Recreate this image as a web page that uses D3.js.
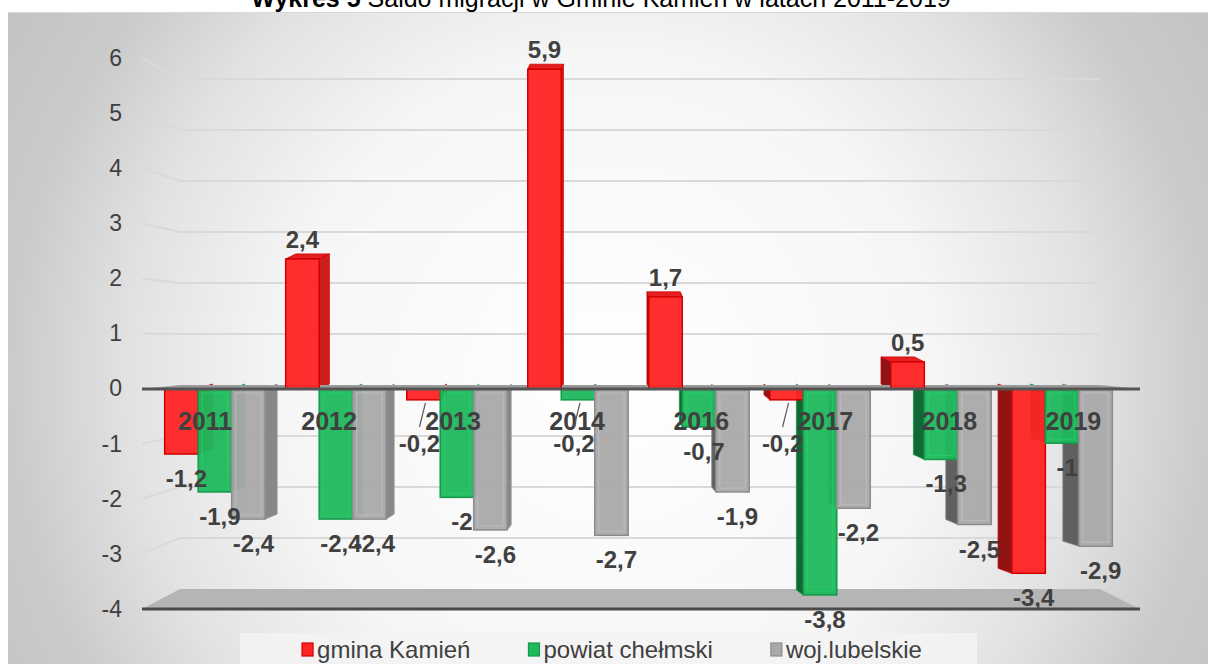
<!DOCTYPE html>
<html>
<head>
<meta charset="utf-8">
<script src="https://cdn.jsdelivr.net/npm/d3@7"></script>
<style>
  body { margin: 0; background: #fff; }
  svg { display: block; font-family: "Liberation Sans", Arial, sans-serif; }
</style>
</head>
<body>
<svg id="viz" width="1208" height="664"></svg>
<script>
// data
var years = ["2011", "2012", "2013", "2014", "2016", "2017", "2018", "2019"];
var seriesNames = ["gmina Kamień", "powiat chełmski", "woj.lubelskie"];
var gmina = [-1.2, 2.4, -0.2, 5.9, 1.7, -0.2, 0.5, -3.4];
var powiat = [-1.9, -2.4, -2, -0.2, -0.7, -3.8, -1.3, -1];
var woj = [-2.4, -2.4, -2.6, -2.7, -1.9, -2.2, -2.5, -2.9];
var yTicks = [-4, -3, -2, -1, 0, 1, 2, 3, 4, 5, 6];
var colors = ["#ff2424", "#1fb85c", "#a9a9a9"];
var strokes = ["#d00000", "#15994a", "#8c8c8c"];

var chart = {};
chart.svg = d3.select("#viz");
chart.mid = 610;

// scales: axis plane, back wall, bar front plane
chart.yA = d3.scaleLinear().domain([-4, 6]).range([609, 58]);
chart.yB = d3.scaleLinear().domain([-4, 6]).range([589, 79]);
chart.yBar = d3.scaleLinear().domain([-4, 6]).range([389 + 4 * 54.2, 389 - 6 * 54.2]);
chart.x0 = d3.scaleBand().domain(years).range([155, 1122]).paddingInner(0.17).paddingOuter(0.08);
chart.x1 = d3.scaleBand().domain(seriesNames).range([0, chart.x0.bandwidth()]);

var rows = [];
years.forEach(function (yr, i) {
    [gmina, powiat, woj].forEach(function (arr, s) {
        rows.push({ year: yr, s: s, v: arr[i] });
    });
});

chart.draw = function () {
    var svg = chart.svg, yA = chart.yA, yB = chart.yB, yBar = chart.yBar;
    var defs = svg.append("defs");
    var grad = defs.append("radialGradient").attr("id", "bg")
        .attr("gradientUnits", "userSpaceOnUse")
        .attr("cx", 610).attr("cy", 380).attr("r", 720);
    [[0, "#ffffff"], [0.45, "#f6f6f6"], [0.67, "#e2e2e2"], [0.83, "#cbcbcb"], [1, "#c2c2c2"]]
        .forEach(function (s) { grad.append("stop").attr("offset", s[0]).attr("stop-color", s[1]); });

    svg.append("rect").attr("x", 8).attr("y", 12).attr("width", 1200).attr("height", 652)
        .attr("fill", "url(#bg)");
    svg.append("line").attr("x1", 8).attr("x2", 1208).attr("y1", 12.5).attr("y2", 12.5)
        .attr("stroke", "#d8d8d8");

    // title
    var t = svg.append("text").attr("x", 601).attr("y", 7).attr("text-anchor", "middle")
        .attr("font-size", 25).attr("fill", "#000");
    t.append("tspan").attr("font-weight", "bold").text("Wykres 5");
    t.append("tspan").text(" Saldo migracji w Gminie Kamień w latach 2011-2019");

    var xl = 142, xb = 180, xbr = 1100, xr = 1140;

    // gridlines
    svg.append("g").selectAll("path")
        .data(yTicks.filter(function (d) { return d !== 0 && d !== -4; }))
        .enter().append("path")
        .attr("d", function (d) { return "M" + xl + "," + yA(d) + "L" + xb + "," + yB(d) + "H" + xbr; })
        .attr("fill", "none").attr("stroke", "#d9d9d9").attr("stroke-width", 2);

    // floor
    svg.append("path")
        .attr("d", "M" + xl + "," + yA(-4) + "L" + xb + "," + yB(-4) + "H" + xbr + "L" + xr + "," + yA(-4) + "Z")
        .attr("fill", "#b5b5b5");
    svg.append("line").attr("x1", xl).attr("x2", xr).attr("y1", yA(-4)).attr("y2", yA(-4))
        .attr("stroke", "#4a4a4a").attr("stroke-width", 3);

    // y axis labels
    var ax = svg.append("g").attr("transform", "translate(124,0)")
        .call(d3.axisLeft(yA).tickValues(yTicks).tickSize(0).tickPadding(2)
            .tickFormat(function (d) { return String(d); }));
    ax.select(".domain").remove();
    ax.selectAll("text").attr("font-size", 23).attr("fill", "#404040")
        .attr("font-family", "Liberation Sans, Arial, sans-serif");

    function geom(d) {
        var x = chart.x0(d.year) + chart.x1(seriesNames[d.s]);
        var w = chart.x1.bandwidth();
        var top = yBar(Math.max(0, d.v)), bot = yBar(Math.min(0, d.v));
        var dx = (chart.mid - (x + w / 2)) * 0.033;
        return { x: x, w: w, top: top, bot: bot, dx: dx, dy: -5, c: x + w / 2 };
    }

    var bars = svg.append("g");
    // side and top faces first
    bars.selectAll(".side").data(rows).enter().append("path").attr("class", "side")
        .attr("d", function (d) {
            var g = geom(d);
            var ex = g.dx > 0 ? g.x + g.w : g.x;
            return "M" + ex + "," + g.top + "L" + (ex + g.dx) + "," + (g.top + g.dy) +
                "L" + (ex + g.dx) + "," + (g.bot + g.dy) + "L" + ex + "," + g.bot + "Z";
        })
        .attr("fill", function (d) {
            var g = geom(d);
            return d3.color(colors[d.s]).darker(g.dx > 0 ? 0.6 : 1.6);
        })
        .attr("stroke", function (d) { return strokes[d.s]; }).attr("stroke-width", 0.8);

    bars.selectAll(".topf").data(rows.filter(function (d) { return d.v > 0; }))
        .enter().append("path").attr("class", "topf")
        .attr("d", function (d) {
            var g = geom(d);
            return "M" + g.x + "," + g.top + "L" + (g.x + g.dx) + "," + (g.top + g.dy) +
                "L" + (g.x + g.w + g.dx) + "," + (g.top + g.dy) + "L" + (g.x + g.w) + "," + g.top + "Z";
        })
        .attr("fill", function (d) { return d3.color(colors[d.s]).darker(0.3); })
        .attr("stroke", function (d) { return strokes[d.s]; }).attr("stroke-width", 0.8);

    // zero plane over the faces that poke above zero
    bars.append("path")
        .attr("d", "M" + xl + "," + yBar(0) + "L" + xb + "," + yB(0) + "H" + xbr + "L" + xr + "," + yBar(0) + "Z")
        .attr("fill", "#9a9a9a");

    bars.selectAll(".front").data(rows).enter().append("rect").attr("class", "front")
        .attr("x", function (d) { return geom(d).x; })
        .attr("y", function (d) { return geom(d).top; })
        .attr("width", function (d) { return geom(d).w; })
        .attr("height", function (d) { var g = geom(d); return g.bot - g.top; })
        .attr("fill", function (d) { return colors[d.s]; })
        .attr("fill-opacity", 0.95)
        .attr("stroke", function (d) { return strokes[d.s]; }).attr("stroke-width", 1.5);

    bars.selectAll(".bevel").data(rows.filter(function (d) { return Math.abs(d.v) >= 0.3; }))
        .enter().append("rect").attr("class", "bevel")
        .attr("x", function (d) { return geom(d).x + 4; })
        .attr("y", function (d) { return geom(d).top + 4; })
        .attr("width", function (d) { return geom(d).w - 8; })
        .attr("height", function (d) { var g = geom(d); return Math.max(0, g.bot - g.top - 8); })
        .attr("fill", "none")
        .attr("stroke", function (d) { return d3.color(colors[d.s]).brighter(0.4); })
        .attr("stroke-opacity", 0.6).attr("stroke-width", 1.2);

    // zero line on top of bars
    svg.append("line").attr("x1", xl).attr("x2", xr).attr("y1", yBar(0)).attr("y2", yBar(0))
        .attr("stroke", "#555555").attr("stroke-width", 3);

    // category labels
    svg.append("g").selectAll("text").data(years).enter().append("text")
        .attr("x", function (d) {
            var c = chart.x0(d) + chart.x0.bandwidth() / 2;
            return c + (c - chart.mid) * 0.025;
        })
        .attr("y", yBar(0) + 41)
        .attr("text-anchor", "middle").attr("font-size", 25).attr("font-weight", "bold")
        .attr("fill", "#404040").text(function (d) { return d; });

    // data labels
    var fmt = function (v) { return String(v).replace(".", ","); };
    var small = function (d) { return d.v < 0 && d.v > -0.5; };
    svg.append("g").selectAll("line").data(rows.filter(small)).enter().append("line")
        .attr("x1", function (d) { return geom(d).c + 2; })
        .attr("y1", function (d) { return geom(d).bot + 3; })
        .attr("x2", function (d) { return geom(d).c - 4; })
        .attr("y2", function (d) { return yBar(0) + 38; })
        .attr("stroke", "#595959").attr("stroke-width", 1.2);

    svg.append("g").selectAll("text").data(rows).enter().append("text")
        .attr("x", function (d) {
            var g = geom(d);
            return d.v > 0 ? g.c : (small(d) ? g.c - 4 : g.c + 5);
        })
        .attr("y", function (d) {
            var g = geom(d);
            if (d.v > 0) return g.top - 11;
            if (small(d)) return yBar(0) + 63;
            return g.bot + 33;
        })
        .attr("text-anchor", "middle").attr("font-size", 24).attr("font-weight", "bold")
        .attr("fill", "#404040").text(function (d) { return fmt(d.v); });

    // legend
    svg.append("rect").attr("x", 240).attr("y", 633).attr("width", 737).attr("height", 40)
        .attr("fill", "#f3f3f3").attr("fill-opacity", 0.85);
    var lg = svg.append("g");
    var cx = 0;
    seriesNames.forEach(function (name, i) {
        var it = lg.append("g").attr("transform", "translate(" + cx + ",0)");
        it.append("rect").attr("x", 0).attr("y", 643).attr("width", 11).attr("height", 13)
            .attr("fill", colors[i]).attr("stroke", strokes[i]).attr("stroke-width", 1.2);
        var tx = it.append("text").attr("x", 15).attr("y", 658).attr("font-size", 24)
            .attr("fill", "#404040").text(name);
        cx += 15 + tx.node().getComputedTextLength() + 58;
    });
    var total = cx - 58;
    lg.attr("transform", "translate(" + (612 - total / 2) + ",0)");
};

chart.draw();
</script>
</body>
</html>
